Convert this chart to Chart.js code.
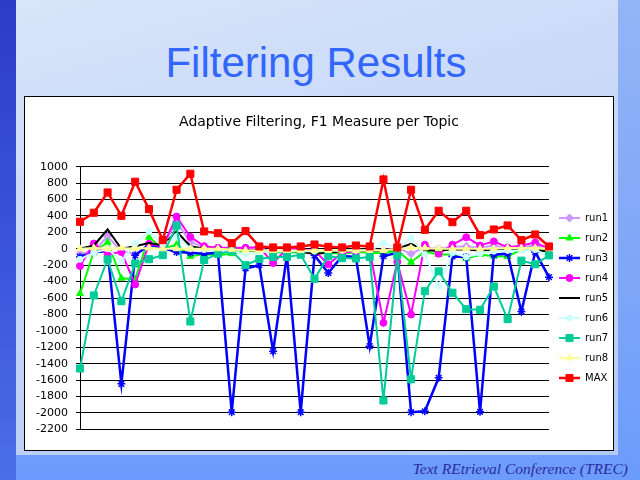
<!DOCTYPE html>
<html>
<head>
<meta charset="utf-8">
<script src="https://cdn.jsdelivr.net/npm/chart.js@4.4.1/dist/chart.umd.min.js"></script>
<style>
  html, body { margin: 0; padding: 0; }
  body { width: 640px; height: 480px; position: relative; overflow: hidden;
         background: linear-gradient(to bottom, #93b4f6 0%, #7da6f8 60%, #6b9bfd 100%); }
  #leftStrip { position: absolute; left: 0; top: 0; width: 16px; height: 480px;
               background: linear-gradient(to bottom, #2c3cc6 0%, #3d58dc 60%, #4a6ee8 100%); }
  #panel { position: absolute; left: 16px; top: 0; width: 602px; height: 455px;
           background: linear-gradient(165deg, #d8e5fa 0%, #c6d7f7 45%, #b3caf3 100%); }
  #slideTitle { position: absolute; left: 0; top: 42px; width: 632px; text-align: center;
                font-family: "Liberation Sans", Arial, sans-serif; font-size: 42px; line-height: 42px;
                color: #3366ff; white-space: nowrap; }
  #box { position: absolute; left: 24px; top: 96px; width: 590px; height: 355px;
         box-sizing: border-box; border: 1px solid #000; background: #fff; }
  #box canvas { display: block; }
  #footer { position: absolute; right: 12px; top: 461px; white-space: nowrap;
            font-family: "Liberation Serif", "Times New Roman", serif; font-style: italic;
            font-size: 15.5px; line-height: 16px; color: #2b2ba0; }
</style>
</head>
<body>
<div id="leftStrip"></div>
<div id="panel"></div>
<div id="slideTitle">Filtering Results</div>
<div id="box"><canvas id="chart" width="588" height="353"></canvas></div>
<div id="footer">Text REtrieval Conference (TREC)</div>
<script>
// ---------------- data ----------------
const topics = ['1','2','3','4','5','6','7','8','9','10','11','12','13','14','15','16','17','18',
                '19','20','21','22','23','24','25','26','27','28','29','30','31','32','33','34','35'];
const yTickValues = [1000, 800, 600, 400, 200, 0, -200, -400, -600, -800, -1000,
                     -1200, -1400, -1600, -1800, -2000, -2200];
const seriesNames = ['run1','run2','run3','run4','run5','run6','run7','run8','MAX'];

const run1 = [-60, -30, 150, -30, -60, 30, 30, 330, 80, 20, 0, -10, 0, 10, -40, -30, -20, -20, -40, -20, -10, -20, -20, 10, -60, 20, 0, 20, 30, 10, 40, 0, 20, 40, 10];
const run2 = [-545, -40, 80, -360, -370, 140, 0, 50, -92, -68, -80, -60, -30, -20, -40, -50, -40, -30, -50, -60, -40, -50, -55, -20, -165, -33, -70, -70, -120, -70, -90, -95, -10, -10, -25];
const run3 = [-100, -40, -30, -1646, -80, 50, 10, -40, -50, -60, -50, -1992, -240, -200, -1248, -80, -1992, -80, -296, -90, -100, -1187, -90, -50, -1992, -1980, -1573, -94, -100, -1987, -73, -60, -764, -40, -346];
const run4 = [-210, 64, -68, -40, -435, 60, 30, 392, 144, 32, 12, 12, 12, 20, -175, 0, -10, -20, -190, -50, -30, -20, -902, -160, -801, 50, -60, 49, 140, 40, 90, 15, 40, 75, 0];
const run5 = [0, 40, 235, 0, 30, 70, 40, 212, 30, 0, 0, -10, -20, -20, -30, -20, -40, -60, -50, -30, -20, -30, -20, 0, 60, -20, -20, -10, -10, -20, -10, -10, 0, -20, -30];
const run6 = [-128, -48, 0, -148, 60, 212, 50, 150, 0, -10, -20, -30, -68, -40, -30, -30, -30, -30, -20, -20, -20, -20, 70, 0, 134, -70, -456, -50, -100, -60, -30, -20, -20, -10, -95];
const run7 = [-1459, -569, -130, -639, -180, -127, -78, 282, -886, -138, -60, -29, -200, -125, -100, -100, -73, -366, -90, -114, -118, -100, -1849, -80, -1590, -517, -275, -536, -736, -744, -460, -858, -145, -189, -80];
const run8 = [0, 10, 0, 10, 0, 10, 0, 0, 0, 0, 0, -10, -20, -20, -20, -20, -20, -20, -20, -20, -20, -20, -20, 0, 10, 10, 0, 0, 0, 0, 0, 10, 10, 10, 0];
const maxF1 = [329, 439, 686, 402, 817, 483, 105, 719, 914, 211, 190, 68, 215, 28, 16, 16, 28, 52, 24, 16, 40, 28, 845, 16, 719, 231, 463, 324, 463, 166, 235, 284, 105, 174, 28];

const seriesData = [run1, run2, run3, run4, run5, run6, run7, run8, maxF1];

// ---------------- styles ----------------
const seriesStyles = [
  { color: '#cc99ff', marker: 'rectRot',  r: 4,   lw: 2,   mw: 1 },
  { color: '#00ff00', marker: 'triangle', r: 4,   lw: 2,   mw: 1 },
  { color: '#0000ff', marker: 'star',     r: 4,   lw: 2.5, mw: 1.5 },
  { color: '#ff00ff', marker: 'circle',   r: 3.5, lw: 2,   mw: 1 },
  { color: '#000000', marker: false,      r: 0,   lw: 2,   mw: 1 },
  { color: '#ccffff', marker: 'circle',   r: 3,   lw: 2,   mw: 1 },
  { color: '#00cc99', marker: 'rect',     r: 5,   lw: 2,   mw: 1 },
  { color: '#ffff99', marker: 'triangle', r: 4,   lw: 2,   mw: 1 },
  { color: '#ff0000', marker: 'rect',     r: 5,   lw: 2.5, mw: 1 }
];

function legendIcon(st) {
  const c = document.createElement('canvas');
  c.width = 21; c.height = 12;
  const g = c.getContext('2d');
  g.strokeStyle = st.color; g.lineWidth = st.lw;
  g.beginPath(); g.moveTo(0, 6); g.lineTo(21, 6); g.stroke();
  if (st.marker) {
    g.fillStyle = st.color; g.strokeStyle = st.color; g.lineWidth = st.mw;
    if (Chart.helpers && Chart.helpers.drawPoint) {
      Chart.helpers.drawPoint(g, { pointStyle: st.marker, radius: st.r, rotation: 0, borderWidth: st.mw }, 10.5, 6);
    } else {
      g.fillRect(10.5 - 3, 3, 6, 6);
    }
  }
  return c;
}
const legendIcons = seriesStyles.map(legendIcon);

const datasets = seriesNames.map((name, i) => {
  const st = seriesStyles[i];
  return {
    label: name,
    data: seriesData[i],
    borderColor: st.color,
    backgroundColor: st.color,
    borderWidth: st.lw,
    pointStyle: st.marker || 'circle',
    pointRadius: st.r,
    pointHoverRadius: st.r,
    pointBackgroundColor: st.color,
    pointBorderColor: st.color,
    pointBorderWidth: st.mw,
    tension: 0,
    fill: false,
    clip: false,
    order: seriesNames.length - 1 - i
  };
});

new Chart(document.getElementById('chart'), {
  type: 'line',
  data: { labels: topics, datasets: datasets },
  options: {
    responsive: false,
    animation: false,
    devicePixelRatio: 1,
    events: [],
    layout: { padding: { left: 0, right: 0, top: 0, bottom: 20.7 } },
    plugins: {
      tooltip: { enabled: false },
      title: {
        display: true,
        text: 'Adaptive Filtering, F1 Measure per Topic',
        color: '#000',
        font: { family: 'DejaVu Sans', size: 14, weight: 'normal' },
        padding: { top: 16.6, bottom: 36.3 }
      },
      legend: {
        display: true,
        position: 'right',
        align: 'center',
        fullSize: false,
        maxWidth: 64,
        labels: {
          usePointStyle: true,
          pointStyleWidth: 21,
          boxHeight: 10,
          padding: 10,
          color: '#000',
          font: { family: 'DejaVu Sans', size: 10 },
          generateLabels: (chart) => chart.data.datasets.map((ds, i) => ({
            text: ds.label,
            datasetIndex: i,
            pointStyle: legendIcons[i],
            hidden: false,
            lineWidth: 0,
            strokeStyle: 'rgba(0,0,0,0)',
            fillStyle: 'rgba(0,0,0,0)',
            fontColor: '#000'
          }))
        }
      }
    },
    scales: {
      x: {
        type: 'category',
        display: false,
        offset: false
      },
      y: {
        min: -2200,
        max: 1000,
        afterBuildTicks: (s) => { s.ticks = yTickValues.map(v => ({ value: v })); },
        afterFit: (s) => { s.width = 55; },
        ticks: {
          autoSkip: false,
          padding: 8,
          color: '#000',
          font: { family: 'DejaVu Sans', size: 11 },
          callback: (v) => String(v)
        },
        grid: { color: '#000', lineWidth: 1, tickLength: 4, drawTicks: true },
        border: { display: true, color: '#000', width: 1 }
      }
    }
  }
});
</script>
</body>
</html>
